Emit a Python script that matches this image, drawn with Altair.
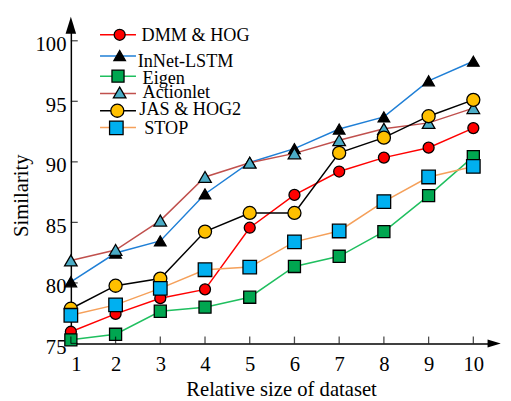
import altair as alt
import pandas as pd

# ---------------- data ----------------
sizes = [1, 2, 3, 4, 5, 6, 7, 8, 9, 10]
series = ["DMM & HOG", "InNet-LSTM", "Eigen", "Actionlet", "JAS & HOG2", "STOP"]
dmm_hog = [75.97, 77.44, 78.74, 79.47, 84.56, 87.27, 89.2, 90.35, 91.17, 92.79]
innet_lstm = [80.09, 82.47, 83.47, 87.35, 89.95, 91.09, 92.71, 93.71, 96.69, 98.31]
eigen = [75.3, 75.76, 77.66, 78.0, 78.82, 81.36, 82.2, 84.24, 87.21, 90.43]
actionlet = [81.85, 82.72, 85.15, 88.75, 89.93, 90.7, 91.79, 92.73, 93.22, 94.44]
jas_hog2 = [77.87, 79.77, 80.36, 84.24, 85.78, 85.78, 90.74, 92.0, 93.77, 95.12]
stop = [77.33, 78.19, 79.55, 81.09, 81.31, 83.39, 84.29, 86.72, 88.75, 89.62]
x_ticks = [1, 2, 3, 4, 5, 6, 7, 8, 9, 10]
y_ticks = [75, 80, 85, 90, 95, 100]

# ---------------- styles ----------------
line_colors = ["#ff0000", "#1f7fd6", "#1fbf5f", "#c0504d", "#000000", "#f5a05a"]
fill_colors = ["#ff0000", "#000000", "#00a650", "#4bacc6", "#ffc000", "#00b0f0"]
shapes = ["circle", "triangle-up", "square", "triangle-up", "circle", "square"]
marker_sizes = [125, 190, 115, 190, 125, 115]
FONT = "Liberation Serif"
X_DOM = [1, 10.4]
Y_DOM = [75, 101.2]

values = [dmm_hog, innet_lstm, eigen, actionlet, jas_hog2, stop]
rows = []
for name, vals in zip(series, values):
    for s, v in zip(sizes, vals):
        rows.append({"series": name, "size": s, "sim": v})
df = pd.DataFrame(rows)

xs = alt.Scale(domain=X_DOM, nice=False, zero=False)
ys = alt.Scale(domain=Y_DOM, nice=False, zero=False)

color_sc = alt.Scale(domain=series, range=line_colors)
fill_sc = alt.Scale(domain=series, range=fill_colors)
shape_sc = alt.Scale(domain=series, range=shapes)
size_sc = alt.Scale(domain=series, range=marker_sizes)

base = alt.Chart(df)

axis_style = dict(
    grid=False, ticks=False, domainColor="black", domainWidth=1.5,
    labelFont=FONT, labelFontSize=21, labelColor="black",
    titleFont=FONT, titleFontSize=21, titleFontWeight="normal", titleColor="black",
)

lines = base.mark_line(strokeWidth=1.5).encode(
    x=alt.X("size:Q", scale=xs,
            axis=alt.Axis(values=x_ticks, title="Relative size of dataset",
                          labelPadding=11, titlePadding=4, format="d", **axis_style)),
    y=alt.Y("sim:Q", scale=ys,
            axis=alt.Axis(values=y_ticks, title="Similarity", labelPadding=5,
                          labelOffset=4, titleX=-50, titleY=172,
                          titleBaseline="middle", **axis_style)),
    color=alt.Color("series:N", scale=color_sc, legend=None),
    detail="series:N",
)

points = base.mark_point(filled=True, stroke="black", strokeWidth=1.3, opacity=1).encode(
    x=alt.X("size:Q", scale=xs),
    y=alt.Y("sim:Q", scale=ys),
    fill=alt.Fill("series:N", scale=fill_sc, legend=None),
    shape=alt.Shape("series:N", scale=shape_sc, legend=None),
    size=alt.Size("series:N", scale=size_sc, legend=None),
)

# inward tick marks
xt = alt.Chart(pd.DataFrame({"t": x_ticks, "b": [Y_DOM[0]] * len(x_ticks)})).mark_tick(
    orient="vertical", size=7, thickness=1.3, color="black", yOffset=-3.5
).encode(x=alt.X("t:Q", scale=xs), y=alt.Y("b:Q", scale=ys))

yt = alt.Chart(pd.DataFrame({"t": y_ticks, "b": [X_DOM[0]] * len(y_ticks)})).mark_tick(
    orient="horizontal", size=7, thickness=1.3, color="black", xOffset=3.5
).encode(y=alt.Y("t:Q", scale=ys), x=alt.X("b:Q", scale=xs))

# axis arrows at the ends of the domains
up_arrow = alt.Chart(pd.DataFrame({"x": [X_DOM[0]], "y": [Y_DOM[1]]})).mark_point(
    shape="M0,-1L0.62,1L-0.62,1Z", filled=True, color="black", size=300, opacity=1,
    yOffset=-1
).encode(x=alt.X("x:Q", scale=xs), y=alt.Y("y:Q", scale=ys))

right_arrow = alt.Chart(pd.DataFrame({"x": [X_DOM[1]], "y": [Y_DOM[0]]})).mark_point(
    shape="M1,0L-1,0.62L-1,-0.62Z", filled=True, color="black", size=180, opacity=1,
    xOffset=3
).encode(x=alt.X("x:Q", scale=xs), y=alt.Y("y:Q", scale=ys))

# custom legend (line sample + marker + label), positioned in plot pixels
leg = pd.DataFrame({
    "series": series,
    "my": [8.7, 29.8, 50.8, 67.5, 86, 103.5],
    "ly": [8.7, 30.3, 51, 68.5, 86, 103],
    "ty": [9.2, 35.5, 52.5, 67.5, 84.2, 104.2],
    "tx": [72, 68, 73, 73, 69.7, 74.7],
    "mx": [49.7, 49.7, 48, 49.7, 47.3, 46.3],
    "lx1": [29.7] * 6,
    "lx2": [66.3] * 6,
})
lbase = alt.Chart(leg)
leg_lines = lbase.mark_rule(strokeWidth=1.5).encode(
    x=alt.X("lx1:Q", scale=None), x2="lx2:Q",
    y=alt.Y("ly:Q", scale=None),
    color=alt.Color("series:N", scale=color_sc, legend=None),
)
leg_pts = lbase.mark_point(filled=True, stroke="black", strokeWidth=1.3, opacity=1).encode(
    x=alt.X("mx:Q", scale=None),
    y=alt.Y("my:Q", scale=None),
    fill=alt.Fill("series:N", scale=fill_sc, legend=None),
    shape=alt.Shape("series:N", scale=shape_sc, legend=None),
    size=alt.Size("series:N", scale=size_sc, legend=None),
)
leg_txt = lbase.mark_text(align="left", baseline="middle", font=FONT,
                          fontSize=18.5, color="black").encode(
    x=alt.X("tx:Q", scale=None),
    y=alt.Y("ty:Q", scale=None),
    text="series:N",
)

chart = alt.layer(
    lines, points, xt, yt, up_arrow, right_arrow, leg_lines, leg_pts, leg_txt
).resolve_scale(
    color="shared"
).properties(
    width=428, height=323,
    autosize=alt.AutoSizeParams(type="none"),
    padding={"left": 64, "top": 15, "right": 12, "bottom": 55},
    background="white",
).configure(font=FONT).configure_view(stroke=None).configure_axis(**axis_style)

chart.save("out.html", embed_options={"renderer": "svg", "actions": False})
